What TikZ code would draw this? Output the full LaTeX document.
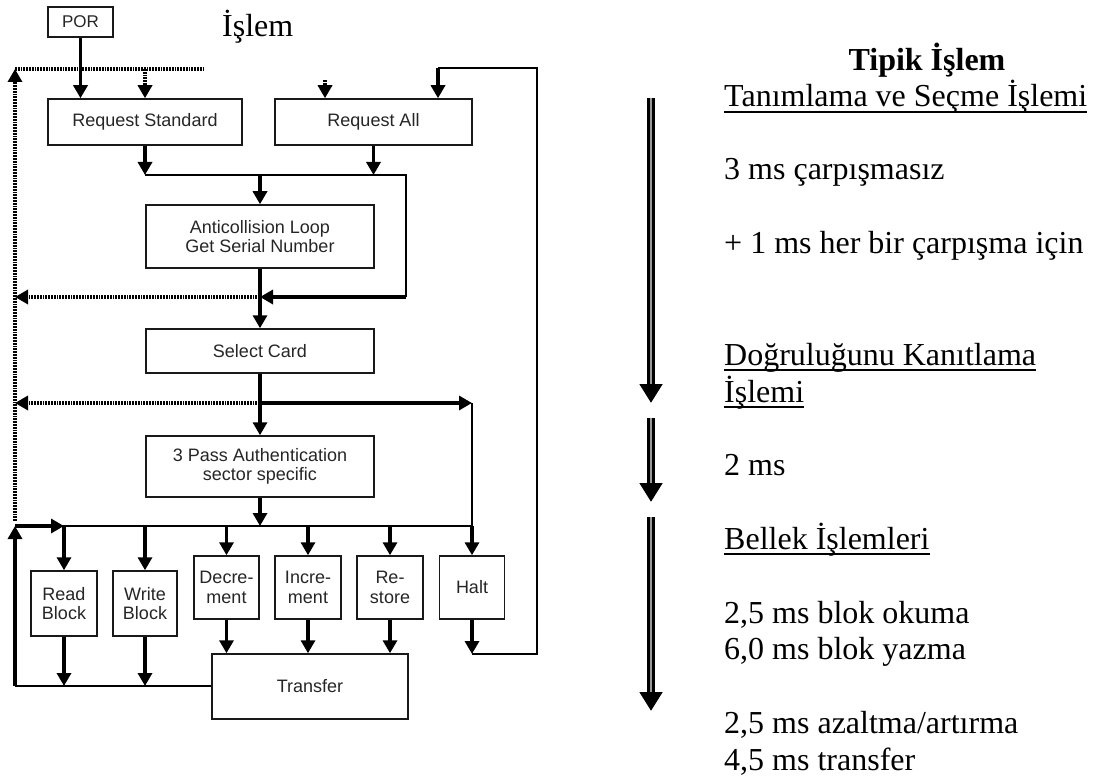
\documentclass[tikz,border=0pt]{standalone}
\usepackage{fontspec}
\setmainfont{Liberation Serif}
\newfontfamily\diagfont{Liberation Sans}
\usetikzlibrary{arrows.meta}
\begin{document}
\begin{tikzpicture}[x=1pt,y=-1pt,
  box/.style={draw=black!90, line width=1.5pt, inner sep=0pt, align=center,
    font=\diagfont\fontsize{18}{19.5}\selectfont, text=black!85},
  arr/.style={line width=3.3pt, -{Triangle[width=14pt,length=13pt]}},
  thinline/.style={line width=1.6pt},
  dotline/.style={line width=3.3pt, dash pattern=on 1.8pt off 1pt},
  dotarr/.style={dotline, -{Triangle[width=14pt,length=13pt]}},
  bigarr/.style={line width=7.5pt, -{Triangle[width=22pt,length=19pt]}},
  bigcore/.style={white!60!black, line width=1.2pt, shorten >=19pt},
  serif/.style={inner sep=0pt, font=\fontsize{32}{36.7}\selectfont},
  ul/.style={line width=1.8pt}
]
\path[use as bounding box, fill=white] (0,0) rectangle (1102,778);

% ---------- boxes of the flow chart ----------
\node[box, minimum width=65pt, minimum height=30pt,
      font=\diagfont\fontsize{17}{18}\selectfont] (por) at (80.5,22) {POR};
\node[serif, anchor=base west] (lbl) at (222,37) {İşlem};

\node[box, minimum width=194pt, minimum height=46pt] (rs) at (145,122) {Request Standard};
\node[box, minimum width=197pt, minimum height=46pt] (ra) at (373.5,122) {Request All};
\node[box, minimum width=228pt, minimum height=63pt] (ac) at (260,236.5) {Anticollision Loop\\Get Serial Number};
\node[box, minimum width=228pt, minimum height=44pt] (sc) at (260,351) {Select Card};
\node[box, minimum width=228pt, minimum height=61pt] (pa) at (260,466.5) {3 Pass Authentication\\sector specific};

\node[box, minimum width=66pt, minimum height=65pt] (rb) at (64,603.5) {Read\\Block};
\node[box, minimum width=64pt, minimum height=65pt] (wb) at (145,603.5) {Write\\Block};
\node[box, minimum width=65pt, minimum height=63pt] (dec) at (226.5,587.5) {Decre-\\ment};
\node[box, minimum width=66pt, minimum height=63pt] (inc) at (308,587.5) {Incre-\\ment};
\node[box, minimum width=66pt, minimum height=63pt] (res) at (390,587.5) {Re-\\store};
\node[box, minimum width=65pt, minimum height=63pt] (halt) at (472,587.5) {Halt};
\node[box, minimum width=196pt, minimum height=65pt] (tr) at (310,686.5) {Transfer};

% ---------- junction points ----------
\coordinate (tl) at (15,69);
\coordinate (te) at (203,69);
\coordinate (tdrop) at (145,69);
\coordinate (stub) at (325,80);
\coordinate (m1) at (260,175);
\coordinate (rr) at (406,175);
\coordinate (m2) at (406,297);
\coordinate (c2) at (260,297);
\coordinate (l2) at (15,297);
\coordinate (c3) at (260,403);
\coordinate (l3) at (15,403);
\coordinate (h3) at (472,403);
\coordinate (lb) at (15,526);
\coordinate (lbtop) at (15,521);
\coordinate (bus) at (260,526);
\coordinate (busr) at (472,526);
\coordinate (ld) at (15,686);
\coordinate (lp1) at (537,654);
\coordinate (lp2) at (537,68);
\coordinate (lp3) at (438,68);

% ---------- dotted return paths ----------
\draw[dotarr] (lbtop) -- (tl);
\draw[dotline] (tl) -- (te);
\draw[dotarr] (tdrop) -- (tdrop |- rs.north);
\draw[dotarr] (stub) -- (stub |- ra.north);
\draw[dotarr] (c2) -- (l2);
\draw[dotarr] (c3) -- (l3);

% ---------- main flow ----------
\draw[arr] (por.south) -- (por.south |- rs.north);
\draw[arr] (rs.south) -- (rs.south |- m1);
\draw[arr] (ra.south) -- (ra.south |- m1);
\draw[thinline] (rs.south |- m1) -- (rr) -- (m2);
\draw[arr] (m1) -- (ac.north);
\draw[arr] (ac.south) -- (sc.north);
\draw[arr] (m2) -- (c2);
\draw[arr] (sc.south) -- (pa.north);
\draw[arr] (c3) -- (h3);
\draw[thinline] (h3) -- (busr);
\draw[arr] (pa.south) -- (bus);
\draw[thinline] (lb) -- (busr);
\draw[arr] (ld) -- (lb);
\draw[arr] (lb) -- (lb -| rb.north);

\foreach \b in {rb,wb,dec,inc,res,halt}
  \draw[arr] (\b.north |- bus) -- (\b.north);

\draw[arr] (rb.south) -- (rb.south |- ld);
\draw[arr] (wb.south) -- (wb.south |- ld);
\draw[thinline] (ld) -- (ld -| tr.west);
\foreach \b in {dec,inc,res}
  \draw[arr] (\b.south) -- (\b.south |- tr.north);
\draw[arr] (halt.south) -- (halt.south |- lp1);
\draw[thinline] (halt.south |- lp1) -- (lp1) -- (lp2) -- (lp3);
\draw[arr] (lp3) -- (lp3 |- ra.north);

% ---------- timing arrows ----------
\coordinate (a1s) at (651,98);  \coordinate (a1e) at (651,403);
\coordinate (a2s) at (651,418); \coordinate (a2e) at (651,502);
\coordinate (a3s) at (651,517); \coordinate (a3e) at (651,711);
\foreach \s/\e in {a1s/a1e,a2s/a2e,a3s/a3e}{
  \draw[bigarr] (\s) -- (\e);
  \draw[bigcore] (\s) -- (\e);
}

% ---------- timing notes ----------
\node[serif, anchor=base] (ttl) at (927,71) {\bfseries Tipik İşlem};
\node[serif, anchor=base west] (h1) at (724,107) {Tanımlama ve Seçme İşlemi};
\node[serif, anchor=base west] (n1) at (724,180) {3 ms çarpışmasız};
\node[serif, anchor=base west] (n2) at (724,253) {+ 1 ms her bir çarpışma için};
\node[serif, anchor=base west] (h2a) at (724,365) {Doğruluğunu Kanıtlama};
\node[serif, anchor=base west] (h2b) at (724,402) {İşlemi};
\node[serif, anchor=base west] (n3) at (724,475) {2 ms};
\node[serif, anchor=base west] (h3t) at (724,549) {Bellek İşlemleri};
\node[serif, anchor=base west] (n4) at (724,623) {2,5 ms blok okuma};
\node[serif, anchor=base west] (n5) at (724,659) {6,0 ms blok yazma};
\node[serif, anchor=base west] (n6) at (724,733) {2,5 ms azaltma/artırma};
\node[serif, anchor=base west] (n7) at (724,770) {4,5 ms transfer};

\foreach \h in {h1,h2a,h2b,h3t}
  \draw[ul] ([yshift=-5pt]\h.base west) -- ([yshift=-5pt]\h.base east);

\end{tikzpicture}
\end{document}
